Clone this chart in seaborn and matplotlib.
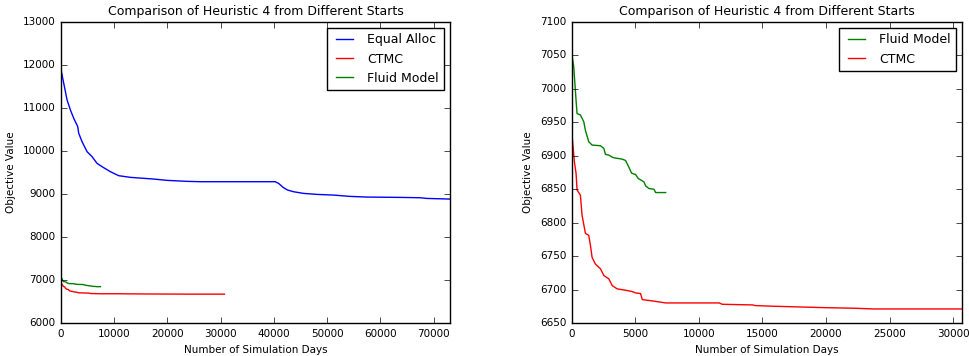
import numpy as np
import matplotlib
matplotlib.use("Agg")
import matplotlib.pyplot as plt
import seaborn as sns

plt.style.use("classic")
plt.rcParams["font.size"] = 7.5
plt.rcParams["font.family"] = ["DejaVu Sans"]

# Equal Alloc start (left panel only)
equal_days = [0, 500, 1127, 1753, 2379, 3130, 3318, 3944, 4883, 5822, 6761, 7700,
              9265, 10830, 13021, 17403, 19907, 23663, 26167, 40252, 40878, 41817,
              42568, 43695, 45573, 48077, 51207, 54337, 57467, 63727, 67483, 68735, 73117]
equal_obj = [11889, 11578, 11190, 10956, 10762, 10568, 10413, 10218, 9985, 9869, 9713, 9636,
             9519, 9426, 9387, 9348, 9317, 9294, 9286, 9286, 9247, 9146,
             9092, 9053, 9014, 8991, 8975, 8944, 8929, 8921, 8913, 8897, 8882]

# CTMC start
ctmc_days = [0, 210, 342, 421, 684, 815, 1078, 1341, 1473, 1604, 1867, 2262, 2525, 2920,
             3183, 3577, 4234, 4760, 5023, 5418, 5550, 6339, 7390, 11600, 11835, 14230,
             14460, 16000, 19750, 22380, 23700, 30700]
ctmc_obj = [6936, 6891, 6874, 6849, 6841, 6811, 6784, 6781, 6766, 6748, 6738, 6731, 6721, 6716,
            6706, 6701, 6699, 6697, 6695, 6694, 6685, 6683, 6680, 6680, 6678, 6677,
            6676, 6675, 6673, 6672, 6671, 6671]

# Fluid Model start
fluid_days = [0, 158, 342, 421, 684, 947, 1078, 1341, 1604, 2262, 2525, 2657, 2920, 3183,
              3314, 3971, 4234, 4497, 4708, 5023, 5234, 5681, 5813, 6076, 6470, 6602, 7390]
fluid_obj = [7053, 7033, 6983, 6963, 6961, 6951, 6938, 6921, 6916, 6915, 6911, 6902, 6901, 6898,
             6897, 6895, 6893, 6883, 6874, 6872, 6866, 6861, 6855, 6851, 6850, 6845, 6845]

title = "Comparison of Heuristic 4 from Different Starts"

fig = plt.figure(figsize=(9.69, 3.56), dpi=100, facecolor="white")
ax1 = fig.add_axes([0.063, 0.0927, 0.4015, 0.8455])
ax2 = fig.add_axes([0.590, 0.0927, 0.4028, 0.8455])

# left: all three starts
sns.lineplot(x=equal_days, y=equal_obj, color="b", label="Equal Alloc", ax=ax1, estimator=None)
sns.lineplot(x=ctmc_days, y=ctmc_obj, color="r", label="CTMC", ax=ax1, estimator=None)
sns.lineplot(x=fluid_days, y=fluid_obj, color="g", label="Fluid Model", ax=ax1, estimator=None)
ax1.set_xlim(0, max(equal_days))
ax1.set_ylim(6000, 13000)
ax1.set_xticks(np.arange(0, 70001, 10000))
ax1.set_yticks(np.arange(6000, 13001, 1000))

# right: zoom on CTMC vs Fluid
sns.lineplot(x=fluid_days, y=fluid_obj, color="g", label="Fluid Model", ax=ax2, estimator=None)
sns.lineplot(x=ctmc_days, y=ctmc_obj, color="r", label="CTMC", ax=ax2, estimator=None)
ax2.set_xlim(0, max(ctmc_days))
ax2.set_ylim(6650, 7100)
ax2.set_xticks(np.arange(0, 30001, 5000))
ax2.set_yticks(np.arange(6650, 7101, 50))

for ax in (ax1, ax2):
    ax.set_title(title, fontsize=9)
    ax.set_xlabel("Number of Simulation Days")
    ax.set_ylabel("Objective Value")
    ax.legend(loc="upper right", fontsize=9)

fig.savefig("out.png", dpi=100, facecolor="white")
